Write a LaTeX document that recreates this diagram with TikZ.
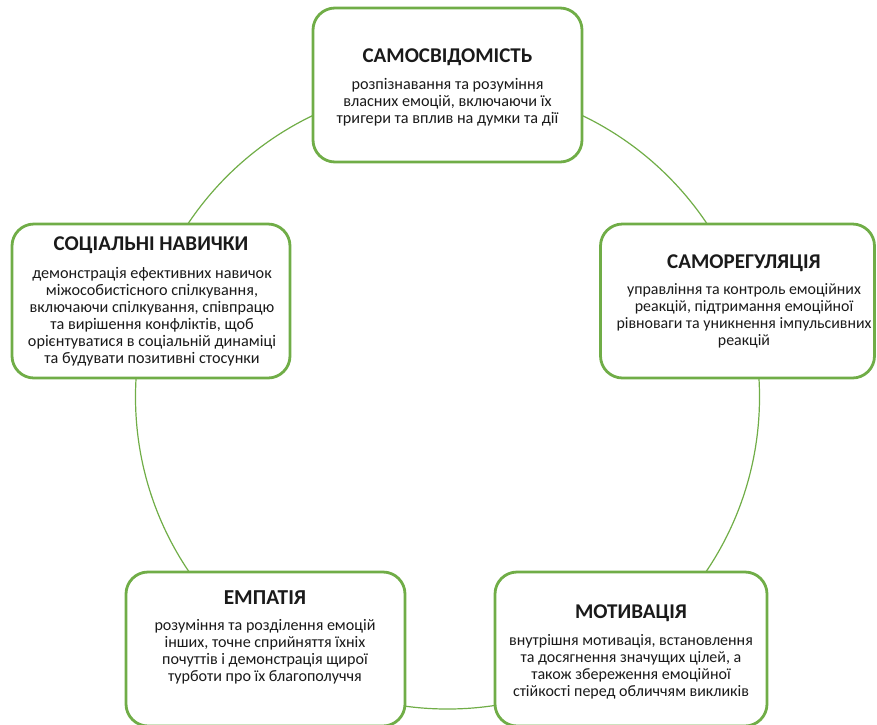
\documentclass[tikz,border=0pt]{standalone}
\usepackage{fontspec}
\setmainfont{Carlito}
\definecolor{grn}{HTML}{70AD47}
\definecolor{txt}{HTML}{1A1A1A}
\begin{document}
\begin{tikzpicture}[x=1pt,y=-1pt,
 box/.style={draw=grn, line width=2.8pt, rounded corners=22pt, fill=white, minimum height=154pt, inner sep=0pt},
 ttl/.style={font=\fontsize{#1}{22}\selectfont\bfseries, anchor=base, inner sep=0pt, text=txt},
 ttl/.default=21,
 bdy/.style={font=\fontsize{#1}{16.9}\selectfont, align=center, anchor=base, inner sep=0pt, text=txt},
 bdy/.default=16]
\useasboundingbox (0,0) rectangle (877,724);
\coordinate (c) at (447.5,397);
\draw[grn, line width=1.2pt] (c) circle (312pt);
% boxes
\node[box, minimum width=269pt] (b1) at (447.5,85) {};
\node[box, minimum width=274pt] (b2) at (737.5,301) {};
\node[box, minimum width=278pt] (b5) at (151,301) {};
\node[box, minimum width=279pt] (b4) at (265.5,649) {};
\node[box, minimum width=272pt] (b3) at (631,649) {};
% texts (body anchor = baseline of last line)
\node[ttl=21] (t1) at (447.5,62) {САМОСВІДОМІСТЬ};
\node[bdy=16.2] (d1) at (447.5,123) {розпізнавання та розуміння\\власних емоцій, включаючи їх\\тригери та вплив на думки та дії};
\node[ttl=21] (t2) at (744,268) {САМОРЕГУЛЯЦІЯ};
\node[bdy=15.9] (d2) at (744,345) {управління та контроль емоційних\\реакцій, підтримання емоційної\\рівноваги та уникнення імпульсивних\\реакцій};
\node[ttl=21] (t5) at (151,250) {СОЦІАЛЬНІ НАВИЧКИ};
\node[bdy=16.2] (d5) at (152,363) {демонстрація ефективних навичок\\міжособистісного спілкування,\\включаючи спілкування, співпрацю\\та вирішення конфліктів, щоб\\орієнтуватися в соціальній динаміці\\та будувати позитивні стосунки};
\node[ttl=21.3] (t4) at (265,604) {ЕМПАТІЯ};
\node[bdy=16.1] (d4) at (265,681.5) {розуміння та розділення емоцій\\інших, точне сприйняття їхніх\\почуттів і демонстрація щирої\\турботи про їх благополуччя};
\node[ttl=21] (t3) at (631,618) {МОТИВАЦІЯ};
\node[bdy=16] (d3) at (631,696.5) {внутрішня мотивація, встановлення\\та досягнення значущих цілей, а\\також збереження емоційної\\стійкості перед обличчям викликів};
\end{tikzpicture}
\end{document}
